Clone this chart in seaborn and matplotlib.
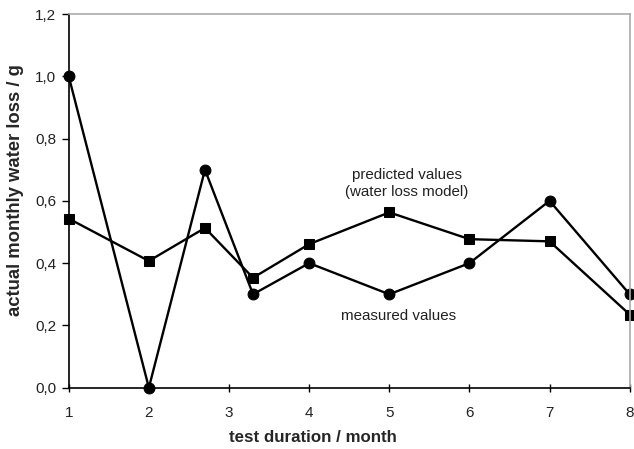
import matplotlib
matplotlib.use("Agg")
import matplotlib.pyplot as plt
import seaborn as sns
import pandas as pd

months = [1, 2, 2.7, 3.3, 4, 5, 6, 7, 8]
measured = [1.0, 0.0, 0.70, 0.30, 0.40, 0.30, 0.40, 0.60, 0.30]
predicted = [0.543, 0.407, 0.513, 0.353, 0.461, 0.563, 0.477, 0.470, 0.235]
x_ticks = [1, 2, 3, 4, 5, 6, 7, 8]
y_ticks = [0.0, 0.2, 0.4, 0.6, 0.8, 1.0, 1.2]
y_tick_labels = ["0,0", "0,2", "0,4", "0,6", "0,8", "1,0", "1,2"]

sns.set_theme(style="white")
plt.rcParams["font.family"] = ["Liberation Sans", "DejaVu Sans"]

df_m = pd.DataFrame({"month": months, "value": measured})
df_p = pd.DataFrame({"month": months, "value": predicted})

fig = plt.figure(figsize=(6.34, 4.49), dpi=100)
ax = fig.add_axes([0.1084, 0.1365, 0.8848, 0.8323])

sns.lineplot(data=df_p, x="month", y="value", ax=ax, color="black", lw=1.7,
             marker="s", markersize=6.8, markeredgecolor="black", sort=False)
sns.lineplot(data=df_m, x="month", y="value", ax=ax, color="black", lw=1.7,
             marker="o", markersize=7.8, markeredgecolor="black", sort=False)

ax.set_xlim(1, 8)
ax.set_ylim(0, 1.2)
ax.set_xticks(x_ticks)
ax.set_xticklabels([str(t) for t in x_ticks])
ax.set_yticks(y_ticks)
ax.set_yticklabels(y_tick_labels)
for m in ax.lines:
    m.set_clip_on(False)

ax.tick_params(axis="x", direction="inout", length=6, width=1, color="black",
               labelsize=11, pad=10, labelcolor="#222222", bottom=True)
ax.tick_params(axis="y", direction="out", length=5, width=1, color="black",
               labelsize=11, pad=4, labelcolor="#222222", left=True)

for s in ["left", "bottom"]:
    ax.spines[s].set_color("black")
    ax.spines[s].set_linewidth(1.2)
for s in ["top", "right"]:
    ax.spines[s].set_color("#aaaaaa")
    ax.spines[s].set_linewidth(1.2)

ax.set_xlabel("test duration / month", fontsize=12.2, fontweight="bold", va="center")
ax.set_ylabel("actual monthly water loss / g", fontsize=13.3, fontweight="bold", va="center")
ax.xaxis.set_label_coords(0.435, -0.132)
ax.yaxis.set_label_coords(-0.094, 0.529)

ax.text(5.22, 0.656, "predicted values\n(water loss model)", ha="center", va="center",
        fontsize=10.9, color="#222222", linespacing=1.2)
ax.text(5.12, 0.230, "measured values", ha="center", va="center",
        fontsize=10.9, color="#222222")

fig.savefig("out.png", dpi=100)
